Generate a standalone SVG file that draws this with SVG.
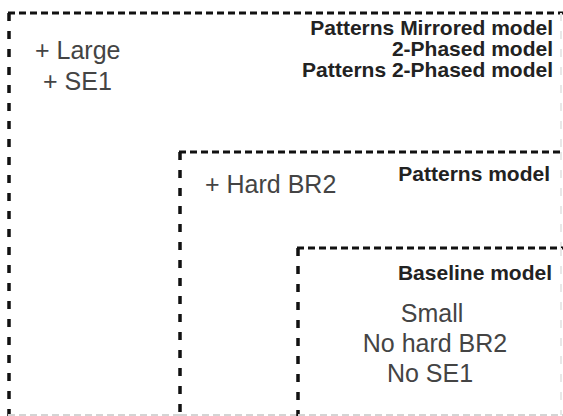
<svg xmlns="http://www.w3.org/2000/svg" width="563" height="416" viewBox="0 0 563 416">
<style>
.h{stroke:#111;stroke-width:3;stroke-dasharray:7 4;fill:none}
.v{stroke:#111;stroke-width:3.5;stroke-dasharray:8 10;fill:none}
.hf{stroke:#d4d4d4;stroke-width:2;stroke-dasharray:7 4;fill:none}
.vf{stroke:#e8e8e8;stroke-width:2;stroke-dasharray:8 10;fill:none}
.t{font-family:"Liberation Sans",Arial,sans-serif;font-weight:bold;font-size:21px;fill:#222;text-anchor:end}
.b{font-family:"Liberation Sans",Arial,sans-serif;font-size:25px;fill:#444}
</style>
<rect width="563" height="416" fill="#fff"/>
<g id="outer">
<line class="h" x1="8" y1="13" x2="563" y2="13"/>
<line class="v" x1="9" y1="13" x2="9" y2="416"/>
<line class="hf" x1="8" y1="415" x2="180" y2="415"/>
<line class="vf" x1="561" y1="13" x2="561" y2="152"/>
<text class="t" x="553" y="35">Patterns Mirrored model</text>
<text class="t" x="553" y="56">2-Phased model</text>
<text class="t" x="553" y="77">Patterns 2-Phased model</text>
<text class="b" x="35" y="59">+ Large</text>
<text class="b" x="43" y="90">+ SE1</text>
</g>
<g id="patterns">
<line class="h" x1="179" y1="152" x2="563" y2="152"/>
<line class="v" x1="180" y1="152" x2="180" y2="416"/>
<line class="hf" x1="180" y1="415" x2="298" y2="415"/>
<line class="vf" x1="561" y1="152" x2="561" y2="248"/>
<text class="t" x="550" y="181">Patterns model</text>
<text class="b" x="205" y="193">+ Hard BR2</text>
</g>
<g id="baseline">
<line class="h" x1="297" y1="248" x2="563" y2="248"/>
<line class="v" x1="298" y1="248" x2="298" y2="416"/>
<line class="hf" x1="298" y1="415" x2="563" y2="415"/>
<line class="vf" x1="561" y1="248" x2="561" y2="415"/>
<text class="t" x="552" y="280">Baseline model</text>
<text class="b" x="432" y="322" text-anchor="middle">Small</text>
<text class="b" x="435" y="352" text-anchor="middle">No hard BR2</text>
<text class="b" x="430" y="382" text-anchor="middle">No SE1</text>
</g>
</svg>
